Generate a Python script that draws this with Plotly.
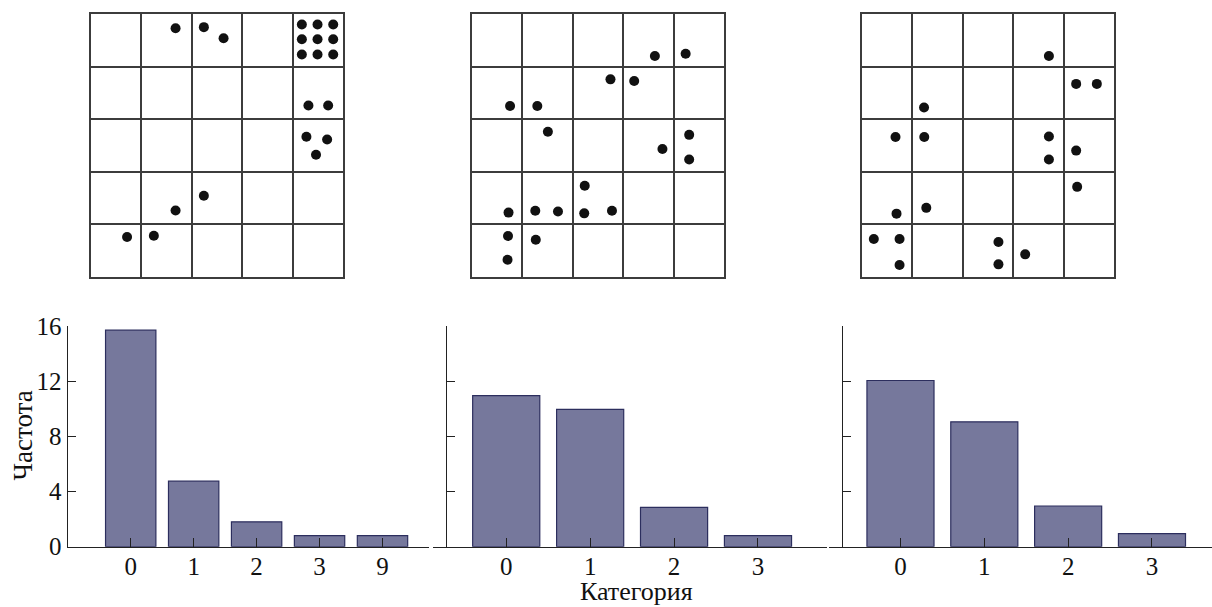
import plotly.graph_objects as go

W, H = 1212, 607

# ---------------- data ----------------
# dot positions in grid-cell units (x: 0..5 left->right, y: 0..5 bottom->top)
grid1_x = [1.68, 2.24, 2.63,
           4.18, 4.49, 4.80, 4.18, 4.49, 4.80, 4.18, 4.49, 4.80,
           4.31, 4.70,
           4.27, 4.68, 4.46,
           2.24, 1.68,
           0.72, 1.25]
grid1_y = [4.73, 4.75, 4.54,
           4.80, 4.80, 4.80, 4.52, 4.52, 4.52, 4.23, 4.23, 4.23,
           3.26, 3.26,
           2.665, 2.61, 2.32,
           1.54, 1.26,
           0.755, 0.78]

grid2_x = [3.63, 4.24, 2.75, 3.22, 0.76, 1.30, 1.51, 4.31, 3.78, 4.31,
           2.24, 0.73, 1.26, 1.71, 2.23, 2.78, 0.72, 1.27, 0.71]
grid2_y = [4.20, 4.245, 3.756, 3.725, 3.25, 3.25, 2.76, 2.70, 2.43, 2.23,
           1.73, 1.22, 1.256, 1.24, 1.206, 1.256, 0.774, 0.704, 0.324]

grid3_x = [3.71, 4.25, 4.66, 1.235, 0.67, 1.24, 3.71, 3.71, 4.25, 4.27,
           0.69, 1.28, 0.24, 0.75, 0.75, 2.71, 2.71, 3.24]
grid3_y = [4.20, 3.67, 3.67, 3.22, 2.66, 2.66, 2.67, 2.23, 2.40, 1.71,
           1.20, 1.31, 0.717, 0.717, 0.222, 0.66, 0.235, 0.425]

cats1 = ["0", "1", "2", "3", "9"]
freq1 = [15.7, 4.75, 1.8, 0.8, 0.8]
cats2 = ["0", "1", "2", "3"]
freq2 = [10.95, 9.95, 2.85, 0.8]
cats3 = ["0", "1", "2", "3"]
freq3 = [12.05, 9.05, 2.95, 0.95]

y_ticks = [0, 4, 8, 12, 16]
y_title = "Частота"
x_title = "Категория"

# ---------------- layout helpers ----------------
FONT = "Liberation Serif, Times New Roman, serif"
BAR_FILL = "#76789c"
BAR_LINE = "#2c2e5e"
AX_COLOR = "#222222"
GRID_COLOR = "#3c3c3c"
TICK_SIZE = 25
TITLE_SIZE = 27

def px_x(v):
    return v / W

def px_y(v):
    return (H - v) / H

fig = go.Figure()

grid_sets = [(grid1_x, grid1_y), (grid2_x, grid2_y), (grid3_x, grid3_y)]
grid_dom = [(90.7, 343.3), (471.7, 724.0), (861.7, 1114.0)]
grid_ydom = [px_y(276.7), px_y(14.0)]

bar_sets = [(cats1, freq1), (cats2, freq2), (cats3, freq3)]
bar_dom = [(66.7, 428.7), (433.3, 827.3), (829.3, 1212.0)]
bar_range = [(-1.017, 4.734), (-0.869, 3.826), (-0.849, 3.716)]
yaxis_pos = [66.7, 445.7, 842.3]
bar_ydom = [px_y(546.7), px_y(326.0)]

layout = dict(
    width=W, height=H,
    margin=dict(l=0, r=0, t=0, b=0, pad=0, autoexpand=False),
    paper_bgcolor="white", plot_bgcolor="white",
    showlegend=False,
    template="none",
    font=dict(family=FONT, size=22, color="#111111"),
)

# grids (axes 1..3)
for i, (gx, gy) in enumerate(grid_sets):
    n = i + 1
    xa = "x" if n == 1 else f"x{n}"
    ya = "y" if n == 1 else f"y{n}"
    fig.add_trace(go.Scatter(
        x=gx, y=gy, mode="markers", xaxis=xa, yaxis=ya,
        marker=dict(size=10, color="#111111", line=dict(width=0)),
        hoverinfo="skip",
    ))
    common = dict(range=[0, 5], dtick=1, tick0=0, showgrid=True,
                  gridcolor=GRID_COLOR, gridwidth=1.5, zeroline=False,
                  showline=True, linecolor=GRID_COLOR, linewidth=1.5,
                  mirror=True, showticklabels=False, ticks="",
                  fixedrange=True, automargin=False)
    layout[f"xaxis{'' if n == 1 else n}"] = dict(
        domain=[px_x(grid_dom[i][0]), px_x(grid_dom[i][1])],
        anchor=ya, **common)
    layout[f"yaxis{'' if n == 1 else n}"] = dict(
        domain=grid_ydom, anchor=xa, **common)

# bar charts (axes 4..6)
for i, (cats, freq) in enumerate(bar_sets):
    n = i + 4
    xa, ya = f"x{n}", f"y{n}"
    pos = list(range(len(cats)))
    fig.add_trace(go.Bar(
        x=pos, y=freq, xaxis=xa, yaxis=ya, width=0.8,
        marker=dict(color=BAR_FILL, line=dict(color=BAR_LINE, width=1.2)),
        hoverinfo="skip",
    ))
    layout[f"xaxis{n}"] = dict(
        domain=[px_x(bar_dom[i][0]), px_x(bar_dom[i][1])],
        anchor=ya, range=list(bar_range[i]),
        tickmode="array", tickvals=pos, ticktext=cats,
        ticks="inside", ticklen=9, tickwidth=1.3, tickcolor=AX_COLOR,
        ticklabelstandoff=-3,
        showline=True, linecolor=AX_COLOR, linewidth=1.3,
        showgrid=False, zeroline=False, fixedrange=True, automargin=False,
        tickfont=dict(family=FONT, size=TICK_SIZE, color="#111111"),
    )
    layout[f"yaxis{n}"] = dict(
        domain=bar_ydom, anchor="free", position=px_x(yaxis_pos[i]),
        range=[0, 16], tickmode="array", tickvals=y_ticks,
        ticktext=[str(t) for t in y_ticks],
        showticklabels=(i == 0),
        ticks="inside", ticklen=8, tickwidth=1.3, tickcolor=AX_COLOR,
        showline=True, linecolor=AX_COLOR, linewidth=1.3,
        showgrid=False, zeroline=False, fixedrange=True, automargin=False,
        tickfont=dict(family=FONT, size=TICK_SIZE, color="#111111"),
    )

layout["annotations"] = [
    dict(text=y_title, x=px_x(22.5), y=px_y(436), xref="paper", yref="paper",
         showarrow=False, textangle=-90, xanchor="center", yanchor="middle",
         font=dict(family=FONT, size=TITLE_SIZE, color="#111111")),
    dict(text=x_title, x=px_x(636.5), y=px_y(591), xref="paper", yref="paper",
         showarrow=False, xanchor="center", yanchor="middle",
         font=dict(family=FONT, size=26, color="#111111")),
]

fig.update_layout(**layout)
fig.write_html(
    "out.html",
    config={"displayModeBar": False},
    post_script="document.body.style.margin='0';"
                "document.body.style.overflow='hidden';",
)
